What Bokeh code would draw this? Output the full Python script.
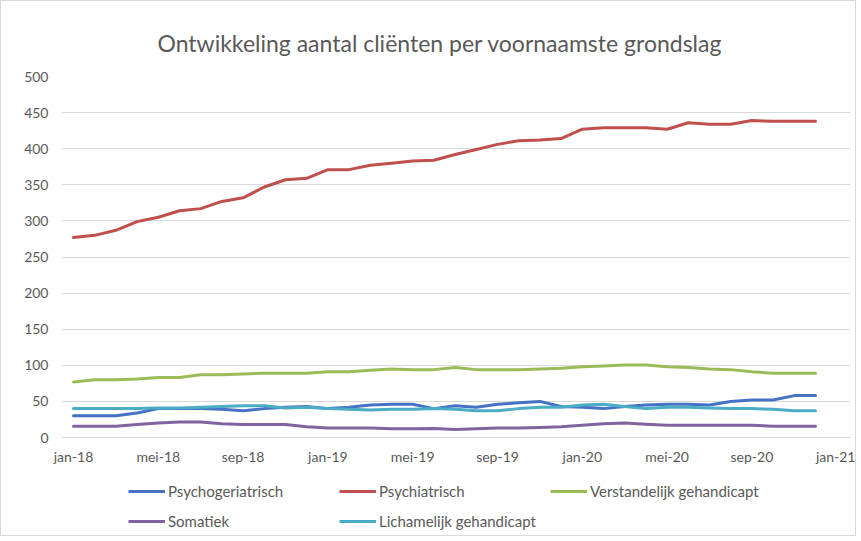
from bokeh.plotting import figure
from bokeh.layouts import column
from bokeh.models import Range1d, FixedTicker, Legend, LegendItem
from bokeh.embed import file_html
from bokeh.resources import INLINE

# Months since jan-18 (0 = jan-18 ... 35 = dec-20)
months = list(range(36))
tick_positions = [0, 4, 8, 12, 16, 20, 24, 28, 32, 36]
tick_labels = ["jan-18", "mei-18", "sep-18", "jan-19", "mei-19", "sep-19",
               "jan-20", "mei-20", "sep-20", "jan-21"]

psychogeriatrisch = [30, 30, 30, 34, 40, 40, 40, 39, 37, 40, 42, 43,
                     40, 42, 45, 46, 46, 40, 44, 42, 46, 48, 50, 43,
                     42, 40, 43, 45, 46, 46, 45, 50, 52, 52, 58, 58]
psychiatrisch = [277, 280, 287, 299, 305, 314, 317, 327, 332, 347, 357, 359,
                 371, 371, 377, 380, 383, 384, 392, 399, 406, 411, 412, 414,
                 427, 429, 429, 429, 427, 436, 434, 434, 439, 438, 438, 438]
verstandelijk = [77, 80, 80, 81, 83, 83, 87, 87, 88, 89, 89, 89,
                 91, 91, 93, 95, 94, 94, 97, 94, 94, 94, 95, 96,
                 98, 99, 100.5, 100.5, 98, 97, 95, 94, 91, 89, 89, 89]
somatiek = [15.5, 15.5, 15.5, 18, 20, 21.5, 21.5, 19, 18, 18, 18, 15,
            13, 13, 13, 12, 12, 12.5, 11, 12, 13, 13, 14, 15,
            17, 19, 20, 18.5, 17, 17, 17, 17, 17, 15.5, 15.5, 15.5]
lichamelijk = [40, 40, 40, 40, 41, 41, 42, 43, 44, 44, 41, 42,
               40, 39, 38, 39, 39, 40, 39, 37, 37, 40, 42, 42,
               45, 46, 43, 40, 42, 42, 41, 40, 40, 39, 37, 37]

series = [
    ("Psychogeriatrisch", psychogeriatrisch, "#4472C4"),
    ("Psychiatrisch", psychiatrisch, "#C0504D"),
    ("Verstandelijk gehandicapt", verstandelijk, "#9BBB59"),
    ("Somatiek", somatiek, "#8064A2"),
    ("Lichamelijk gehandicapt", lichamelijk, "#4BACC6"),
]

FONT = "Lato"
TXT = "#595959"
BORDER = "1px solid #d9d9d9"

p = figure(width=856, height=474, output_backend="svg", toolbar_location=None,
           x_range=Range1d(-0.566, 36.65), y_range=Range1d(0, 500),
           min_border_left=60, min_border_right=7, min_border_top=75,
           min_border_bottom=38)
p.outline_line_color = None
p.background_fill_color = "white"
p.border_fill_color = "white"
p.styles = {"border-top": BORDER, "border-left": BORDER, "border-right": BORDER,
            "box-sizing": "border-box"}

p.title.text = "Ontwikkeling aantal cliënten per voornaamste grondslag"
p.title.align = "left"
p.title.offset = 96
p.title.standoff = 40
p.title.text_font = FONT
p.title.text_font_size = "23px"
p.title.text_font_style = "normal"
p.title.text_color = TXT

p.xgrid.grid_line_color = None
p.ygrid.grid_line_color = "#d9d9d9"
p.ygrid.grid_line_width = 1
p.yaxis.ticker = FixedTicker(ticks=[0, 50, 100, 150, 200, 250, 300, 350, 400, 450, 500])
p.xaxis.ticker = FixedTicker(ticks=tick_positions)
p.xaxis.major_label_overrides = {t: l for t, l in zip(tick_positions, tick_labels)}

for ax in (p.xaxis, p.yaxis):
    ax.major_tick_line_color = None
    ax.minor_tick_line_color = None
    ax.major_tick_out = 0
    ax.major_tick_in = 0
    ax.minor_tick_out = 0
    ax.major_label_text_font = FONT
    ax.major_label_text_font_size = "14px"
    ax.major_label_text_color = TXT
p.yaxis.axis_line_color = None
p.xaxis.axis_line_color = "#d9d9d9"
p.yaxis.major_label_standoff = 13
p.xaxis.major_label_standoff = 10

for name, vals, color in series:
    p.line(months, vals, line_color=color, line_width=3, line_cap="round",
           line_join="round")

# Legend strip below the chart (its frame is aligned with the chart's frame)
p2 = figure(width=856, height=62, output_backend="svg", toolbar_location=None,
            x_range=Range1d(-1, 0), y_range=Range1d(-1, 0),
            min_border_left=0, min_border_right=0, min_border_top=0,
            min_border_bottom=0)
p2.axis.visible = False
p2.grid.grid_line_color = None
p2.outline_line_color = None
p2.background_fill_color = "white"
p2.border_fill_color = "white"
p2.styles = {"border-bottom": BORDER, "border-left": BORDER, "border-right": BORDER,
             "box-sizing": "border-box"}

items = []
for name, vals, color in series:
    # same series, but outside this strip's ranges: only the legend glyph shows
    r = p2.line(months, vals, line_color=color, line_width=3)
    items.append(LegendItem(label=name, renderers=[r]))

legend = Legend(items=items, orientation="horizontal", ncols=3,
                location=(67, 1), padding=0, margin=0,
                border_line_color=None, background_fill_alpha=0,
                glyph_width=37, glyph_height=28, label_height=28,
                label_width=169, label_standoff=3, spacing=2,
                label_text_font=FONT, label_text_font_size="15px",
                label_text_color=TXT)
p2.add_layout(legend, "center")

layout = column(p, p2, spacing=0)
open("out.html", "w").write(file_html(layout, INLINE))
